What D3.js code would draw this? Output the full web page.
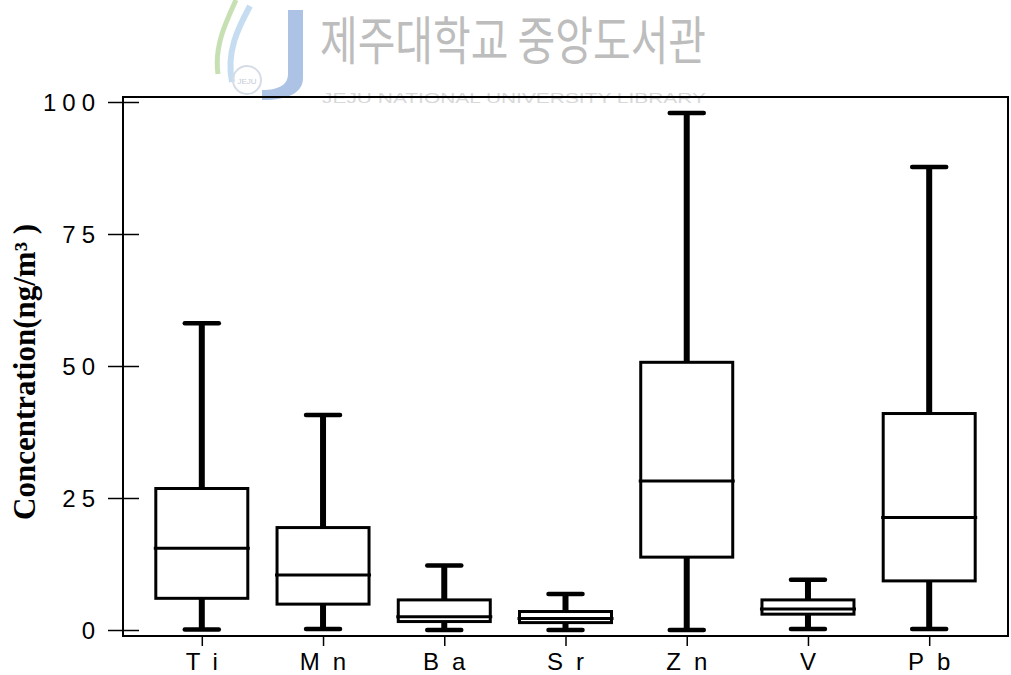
<!DOCTYPE html>
<html>
<head>
<meta charset="utf-8">
<script src="https://cdn.jsdelivr.net/npm/d3@7"></script>
<style>
  html, body { margin: 0; padding: 0; background: #fff; }
  svg { display: block; }
</style>
</head>
<body>
<svg id="chart" width="1011" height="675"></svg>
<script>
// Element concentrations (ng/m³): five-number summaries per element
const categories = ["Ti", "Mn", "Ba", "Sr", "Zn", "V", "Pb"];
const minValues    = [0.1, 0.2, 0.0, 0.0, 0.0, 0.2, 0.2];
const q1Values     = [6.0, 4.9, 1.6, 1.4, 13.8, 3.0, 9.3];
const medianValues = [15.5, 10.4, 2.5, 2.2, 28.2, 4.0, 21.3];
const q3Values     = [26.8, 19.4, 5.7, 3.5, 50.7, 5.7, 41.0];
const maxValues    = [58.1, 40.7, 12.2, 6.8, 97.9, 9.5, 87.7];
const yTicks = [0, 25, 50, 75, 100];
const yTitle = "Concentration(ng/m\u00B3 )";

const svg = d3.select("#chart");

// plot frame
const frame = { left: 123, right: 1008, top: 97, bottom: 636 };

const x = d3.scalePoint()
  .domain(categories)
  .range([frame.left, frame.right])
  .padding(0.65);

const y = d3.scaleLinear()
  .domain([0, 100])
  .range([630, 102]);

// ---- watermark (library logo + name) ----
const wm = svg.append("g").attr("class", "watermark");
wm.append("path")
  .attr("d", "M236,0 C226,22 214,46 218,74")
  .attr("fill", "none").attr("stroke", "#b9d8a0").attr("stroke-width", 5).attr("opacity", 0.8);
wm.append("path")
  .attr("d", "M250,6 C238,28 226,52 232,82")
  .attr("fill", "none").attr("stroke", "#b7d3ee").attr("stroke-width", 6).attr("opacity", 0.8);
wm.append("path")
  .attr("d", "M288,10 L303,10 L303,78 C303,92 290,100 262,100 L262,90 C280,90 288,84 288,74 Z")
  .attr("fill", "#9db8e0").attr("opacity", 0.85);
wm.append("circle")
  .attr("cx", 247).attr("cy", 80).attr("r", 14)
  .attr("fill", "none").attr("stroke", "#d6dce6").attr("stroke-width", 2);
wm.append("text")
  .attr("x", 247).attr("y", 84)
  .attr("text-anchor", "middle")
  .attr("font-family", "Liberation Sans, Arial, sans-serif")
  .attr("font-size", 8).attr("fill", "#c4cbd6")
  .text("JEJU");
wm.append("text")
  .attr("x", 320).attr("y", 60)
  .attr("font-family", "Noto Sans CJK KR, sans-serif")
  .attr("font-size", 52)
  .attr("textLength", 386).attr("lengthAdjust", "spacingAndGlyphs")
  .attr("fill", "#bdbdbd")
  .text("제주대학교 중앙도서관");
wm.append("text")
  .attr("x", 322).attr("y", 103)
  .attr("font-family", "Liberation Sans, Arial, sans-serif")
  .attr("font-size", 14)
  .attr("textLength", 384).attr("lengthAdjust", "spacingAndGlyphs")
  .attr("fill", "#d8d8d8")
  .text("JEJU NATIONAL UNIVERSITY LIBRARY");

// ---- boxes ----
const boxHalf = 46;
const capHalf = 17;
const g = svg.append("g").attr("class", "boxes");

categories.forEach((c, i) => {
  const cx = x(c);
  // whiskers
  g.append("line")
    .attr("x1", cx).attr("x2", cx)
    .attr("y1", y(q3Values[i])).attr("y2", y(maxValues[i]))
    .attr("stroke", "#000").attr("stroke-width", 6);
  g.append("line")
    .attr("x1", cx).attr("x2", cx)
    .attr("y1", y(q1Values[i])).attr("y2", y(minValues[i]))
    .attr("stroke", "#000").attr("stroke-width", 6);
  // caps
  [maxValues[i], minValues[i]].forEach(v => {
    g.append("line")
      .attr("x1", cx - capHalf).attr("x2", cx + capHalf)
      .attr("y1", y(v)).attr("y2", y(v))
      .attr("stroke", "#000").attr("stroke-width", 4.5)
      .attr("stroke-linecap", "round");
  });
  // box
  g.append("rect")
    .attr("x", cx - boxHalf)
    .attr("y", y(q3Values[i]))
    .attr("width", boxHalf * 2)
    .attr("height", y(q1Values[i]) - y(q3Values[i]))
    .attr("fill", "#fff")
    .attr("stroke", "#000").attr("stroke-width", 3);
  // median
  g.append("line")
    .attr("x1", cx - boxHalf - 2).attr("x2", cx + boxHalf + 2)
    .attr("y1", y(medianValues[i])).attr("y2", y(medianValues[i]))
    .attr("stroke", "#000").attr("stroke-width", 3);
});

// ---- frame ----
svg.append("rect")
  .attr("x", frame.left).attr("y", frame.top)
  .attr("width", frame.right - frame.left)
  .attr("height", frame.bottom - frame.top)
  .attr("fill", "none").attr("stroke", "#000").attr("stroke-width", 2);

// ---- y axis ----
const yAxis = svg.append("g")
  .attr("transform", `translate(${frame.left},0)`)
  .call(d3.axisLeft(y).tickValues(yTicks).tickSizeInner(15).tickSizeOuter(0).tickPadding(0));
yAxis.select(".domain").remove();
yAxis.selectAll(".tick line")
  .attr("x1", -15).attr("x2", 16)
  .attr("stroke", "#000").attr("stroke-width", 1.5);
yAxis.selectAll(".tick text")
  .attr("x", -22)
  .attr("dy", "0.36em")
  .attr("font-family", "Liberation Sans, Arial, sans-serif")
  .attr("font-size", 24)
  .attr("letter-spacing", 6)
  .attr("fill", "#000");

// ---- x axis ----
const xAxis = svg.append("g")
  .attr("transform", `translate(0,${frame.bottom})`)
  .call(d3.axisBottom(x).tickSizeInner(10).tickSizeOuter(0).tickPadding(0));
xAxis.select(".domain").remove();
xAxis.selectAll(".tick line").attr("stroke", "#000").attr("stroke-width", 1.5);
xAxis.selectAll(".tick text")
  .attr("y", 34)
  .attr("dy", 0)
  .attr("dx", 6)
  .attr("font-family", "Liberation Sans, Arial, sans-serif")
  .attr("font-size", 24)
  .attr("letter-spacing", 13)
  .attr("fill", "#000");

// ---- y title ----
svg.append("text")
  .attr("transform", "translate(35,520) rotate(-90)")
  .attr("font-family", "Liberation Serif, Times New Roman, serif")
  .attr("font-weight", "bold")
  .attr("font-size", 31)
  .attr("fill", "#000")
  .text(yTitle);
</script>
</body>
</html>
